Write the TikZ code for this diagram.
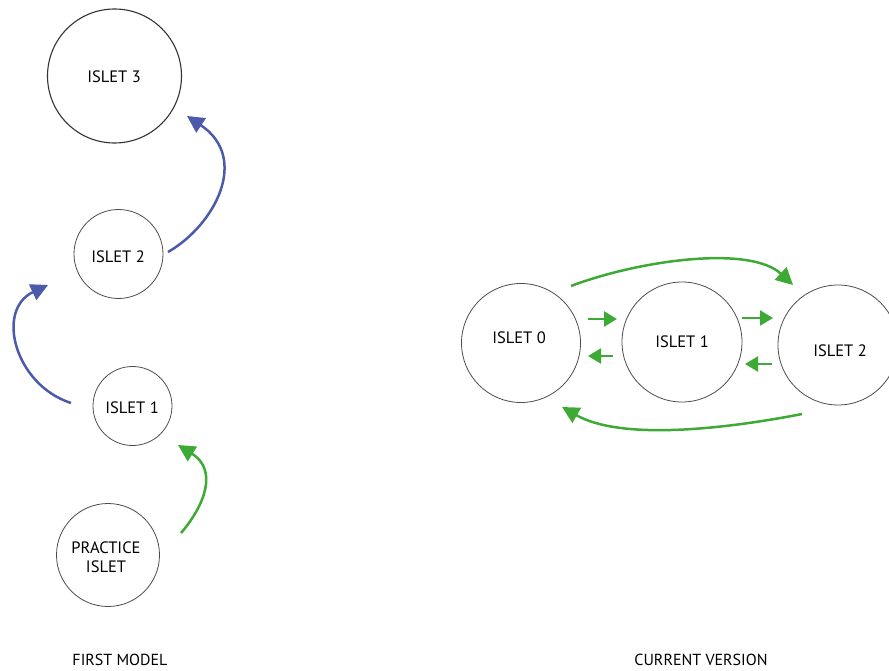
\documentclass[tikz,border=0pt]{standalone}
\usepackage{fontspec}
\setmainfont{PT Sans}
\usetikzlibrary{arrows.meta}
\definecolor{linkblue}{RGB}{75,90,170}
\definecolor{linkgreen}{RGB}{61,170,53}
\tikzset{
  islet/.style={circle, draw=black!70, line width=0.8pt, inner sep=0pt},
  isletlbl/.style={font=\fontsize{16.5}{19}\selectfont, text=black, align=center, inner sep=0pt},
  caption/.style={font=\fontsize{16}{19}\selectfont, text=black, inner sep=0pt},
  bigarrow/.style={line width=2.5pt, -{Triangle[length=17pt,width=17pt]}},
  smallarrow/.style={line width=2.5pt, -{Triangle[length=13pt,width=15pt]}},
}
\begin{document}
\begin{tikzpicture}[x=1pt, y=-1pt]
\useasboundingbox (0,0) rectangle (889,671);
\clip (0,0) rectangle (889,671);

% --- first model: a linear chain of islets ---
\node[islet, minimum size=134pt, line width=1.1pt, draw=black!80] (i3) at (114.5,76) {};
\node[isletlbl] (t3) at (114,77) {ISLET 3};
\node[islet, minimum size=89pt] (i2) at (118.5,254) {};
\node[isletlbl] (t2) at (118,257) {ISLET 2};
\node[islet, minimum size=79pt] (i1) at (132.5,406) {};
\node[isletlbl] (t1) at (132,408) {ISLET 1};
\node[islet, minimum size=103pt] (ip) at (108,555) {};
\node[isletlbl] (tp) at (106,557) {PRACTICE\\ISLET};

\coordinate (p-out) at (181,533);
\coordinate (i1-in) at (178,445);
\coordinate (i1-out) at (71,403);
\coordinate (i2-in) at (48,285);
\coordinate (i2-out) at (168,252);
\coordinate (i3-in) at (187,116);

\draw[bigarrow, linkgreen] (p-out) .. controls (205,505) and (218,470) .. (i1-in);
\draw[bigarrow, linkblue] (i1-out) .. controls (15,385) and (-5,310) .. (i2-in);
\draw[bigarrow, linkblue] (i2-out) .. controls (215,225) and (250,158) .. (i3-in);

\node[caption] (cap1) at (120,660) {FIRST MODEL};

% --- current version: islets linked both ways ---
\node[islet, minimum size=119pt] (r0) at (521,343) {};
\node[isletlbl] (s0) at (519,338) {ISLET 0};
\node[islet, minimum size=120pt] (r1) at (682,342) {};
\node[isletlbl] (s1) at (682,342) {ISLET 1};
\node[islet, minimum size=120pt] (r2) at (838,345) {};
\node[isletlbl] (s2) at (840,350.5) {ISLET 2};

\coordinate (a01s) at (588,319);  \coordinate (a01e) at (617,319);
\coordinate (a10s) at (613,356);  \coordinate (a10e) at (588,356);
\coordinate (a12s) at (742,318);  \coordinate (a12e) at (773,318);
\coordinate (a21s) at (772,364);  \coordinate (a21e) at (745,364);
\draw[smallarrow, linkgreen] (a01s) -- (a01e);
\draw[smallarrow, linkgreen] (a10s) -- (a10e);
\draw[smallarrow, linkgreen] (a12s) -- (a12e);
\draw[smallarrow, linkgreen] (a21s) -- (a21e);

\coordinate (r0-top) at (571,286);
\coordinate (r2-top) at (793,285);
\coordinate (r2-bot) at (802,414);
\coordinate (r0-bot) at (562,407);
\draw[bigarrow, linkgreen] (r0-top) .. controls (640,260) and (750,245) .. (r2-top);
\draw[bigarrow, linkgreen] (r2-bot) .. controls (720,430) and (620,440) .. (r0-bot);

\node[caption] (cap2) at (701,660) {CURRENT VERSION};
\end{tikzpicture}
\end{document}
